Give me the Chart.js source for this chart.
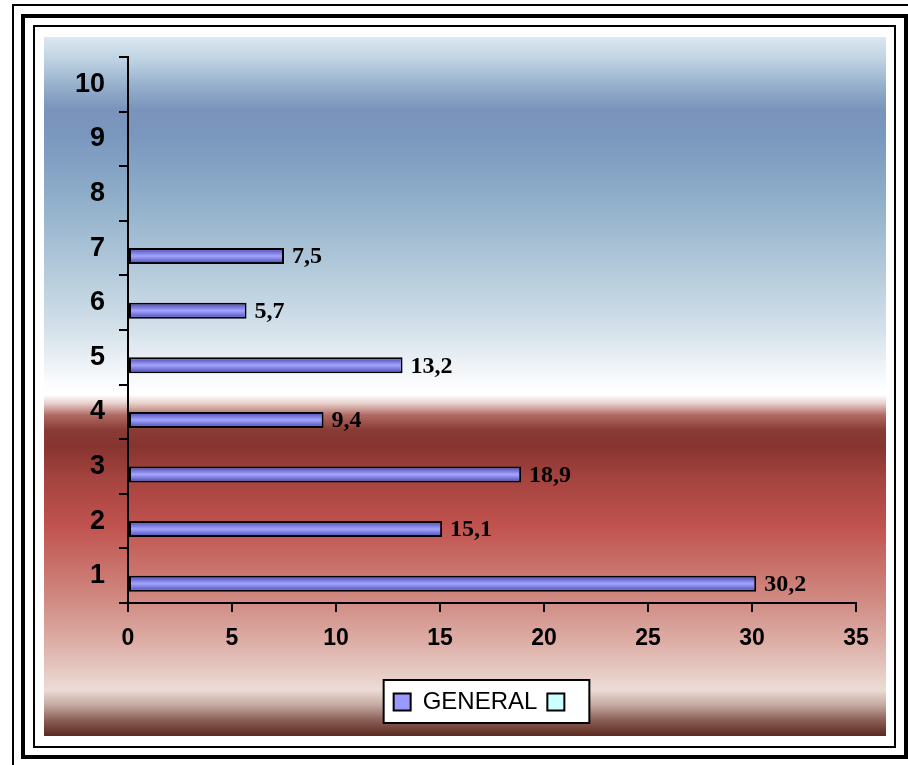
<!DOCTYPE html>
<html>
<head>
<meta charset="utf-8">
<script src="https://cdn.jsdelivr.net/npm/chart.js@4/dist/chart.umd.min.js"></script>
<style>
  html, body { margin: 0; padding: 0; background: #fff; }
  #wrap { position: relative; width: 908px; height: 765px; }
</style>
</head>
<body>
<div id="wrap"><canvas id="chart"></canvas></div>
<script>
// ---- data ----
const categories = ['1', '2', '3', '4', '5', '6', '7', '8', '9', '10'];
const generalValues = [30.2, 15.1, 18.9, 9.4, 13.2, 5.7, 7.5, null, null, null];
const blankValues = [null, null, null, null, null, null, null, null, null, null];
const seriesNames = ['GENERAL', ''];
const axisMin = 0;
const axisMax = 35;
const axisStep = 5;

// ---- styling ----
const SANS = '"Liberation Sans", Arial, sans-serif';
const SERIF = '"Liberation Serif", "Times New Roman", serif';
const barShades = [
  { edge: '#8fd0d0', mid: '#ccffff' },   // blank series
  { edge: '#5c5cc2', mid: '#a4a4ff' }    // GENERAL
];

const fmt = v => v.toFixed(1).replace('.', ',');

// Page frame, plot background and legend panel
const framePlugin = {
  id: 'framePlugin',
  beforeDraw(chart) {
    const ctx = chart.ctx;
    ctx.save();
    ctx.fillStyle = '#fff';
    ctx.fillRect(0, 0, chart.width, chart.height);
    ctx.fillStyle = '#000';
    // outer hairline
    ctx.fillRect(12, 4, 896, 2);
    ctx.fillRect(12, 4, 2, 761);
    // heavy frame
    ctx.fillRect(21, 14, 887, 4);
    ctx.fillRect(21, 14, 4, 745);
    ctx.fillRect(904, 14, 4, 745);
    ctx.fillRect(21, 755, 887, 4);
    // inner thin frame
    ctx.fillRect(33, 25, 863, 2);
    ctx.fillRect(33, 25, 2, 723);
    ctx.fillRect(894, 25, 2, 723);
    ctx.fillRect(33, 746, 863, 2);

    // plot background gradient
    const top = 37, bottom = 736;
    const g = ctx.createLinearGradient(0, top, 0, bottom);
    const stops = [
      [0.000, '#dce8f2'], [0.033, '#bed2e2'], [0.069, '#96b0cc'], [0.104, '#7a93bb'],
      [0.147, '#7b98bf'], [0.233, '#90afca'], [0.319, '#aec6d8'], [0.419, '#d4e1ea'],
      [0.495, '#fbfcfd'], [0.512, '#ffffff'], [0.524, '#e8d0cc'], [0.541, '#b06a64'],
      [0.562, '#8a3b35'], [0.584, '#86342f'], [0.634, '#a64440'], [0.698, '#c0524e'],
      [0.748, '#c86c66'], [0.805, '#d08a82'], [0.863, '#dcaca4'], [0.934, '#ecdcd6'],
      [0.956, '#c4a8a0'], [0.977, '#8c6058'], [1.000, '#5a281e']
    ];
    stops.forEach(([o, c]) => g.addColorStop(o, c));
    ctx.fillStyle = g;
    ctx.fillRect(44, top, 842, bottom - top);

    // legend panel
    const hb = chart.legend && chart.legend.legendHitBoxes;
    if (hb && hb.length) {
      const l = Math.min(...hb.map(h => h.left)) - 10;
      const r = Math.max(...hb.map(h => h.left + h.width)) + 13;
      const t = Math.min(...hb.map(h => h.top)) - 10;
      const b = Math.max(...hb.map(h => h.top + h.height)) + 9;
      ctx.fillStyle = '#fff';
      ctx.fillRect(l, t, r - l, b - t);
      ctx.strokeStyle = '#000';
      ctx.lineWidth = 2;
      ctx.strokeRect(l, t, r - l, b - t);
    }
    ctx.restore();
  },
  afterLayout(chart) {
    // centre the legend row under the plot
    const lg = chart.legend;
    if (lg) { lg.left += 35; lg.right += 35; }
  }
};

// Shaded bar faces and value labels
const barDecor = {
  id: 'barDecor',
  afterDatasetsDraw(chart) {
    const ctx = chart.ctx;
    ctx.save();
    chart.data.datasets.forEach((ds, di) => {
      const meta = chart.getDatasetMeta(di);
      const shade = barShades[di];
      meta.data.forEach((bar, i) => {
        if (ds.data[i] == null) return;
        const p = bar.getProps(['x', 'y', 'base', 'height'], true);
        const bw = 2;
        const l = Math.min(p.x, p.base) + bw, r = Math.max(p.x, p.base) - bw;
        const t = p.y - p.height / 2 + bw, b = p.y + p.height / 2 - bw;
        if (r <= l || b <= t) return;
        const g = ctx.createLinearGradient(0, t, 0, b);
        g.addColorStop(0, shade.edge);
        g.addColorStop(0.5, shade.mid);
        g.addColorStop(1, shade.edge);
        ctx.fillStyle = g;
        ctx.fillRect(l, t, r - l, b - t);
      });
    });
    ctx.font = 'bold 24px ' + SERIF;
    ctx.fillStyle = '#000';
    ctx.textAlign = 'left';
    ctx.textBaseline = 'middle';
    chart.data.datasets.forEach((ds, di) => {
      const meta = chart.getDatasetMeta(di);
      meta.data.forEach((bar, i) => {
        const v = ds.data[i];
        if (v == null) return;
        ctx.fillText(fmt(v), bar.x + 8, bar.y + 1);
      });
    });
    ctx.restore();
  }
};

new Chart(document.getElementById('chart'), {
  type: 'bar',
  data: {
    labels: categories,
    datasets: [
      {
        label: seriesNames[1],
        data: blankValues,
        backgroundColor: '#ccffff',
        borderColor: '#000',
        borderWidth: 2,
        borderSkipped: false
      },
      {
        label: seriesNames[0],
        data: generalValues,
        backgroundColor: '#9999ff',
        borderColor: '#000',
        borderWidth: 2,
        borderSkipped: false
      }
    ]
  },
  options: {
    indexAxis: 'y',
    responsive: true,
    maintainAspectRatio: false,
    animation: false,
    events: [],
    categoryPercentage: 0.586,
    barPercentage: 1,
    layout: { padding: { left: 44, right: 52, top: 57, bottom: 41 } },
    scales: {
      y: {
        type: 'category',
        reverse: true,
        offset: true,
        afterFit(scale) { scale.width = 84; },
        border: { display: true, color: '#000', width: 2 },
        grid: {
          offset: true,
          drawOnChartArea: false,
          drawTicks: true,
          tickLength: 9,
          color: '#000',
          lineWidth: 2
        },
        ticks: {
          color: '#000',
          padding: 14,
          font: { family: SANS, size: 27, weight: 'bold' }
        }
      },
      x: {
        type: 'linear',
        min: axisMin,
        max: axisMax,
        afterFit(scale) { scale.height = 77; },
        border: { display: true, color: '#000', width: 2 },
        grid: {
          drawOnChartArea: false,
          drawTicks: true,
          tickLength: 9,
          color: '#000',
          lineWidth: 2
        },
        ticks: {
          stepSize: axisStep,
          color: '#000',
          padding: 13,
          font: { family: SANS, size: 23, weight: 'bold' }
        }
      }
    },
    plugins: {
      legend: {
        display: true,
        position: 'bottom',
        reverse: true,
        labels: {
          boxWidth: 17,
          boxHeight: 17,
          padding: 10,
          color: '#000',
          font: { family: SANS, size: 24 }
        }
      },
      tooltip: { enabled: false }
    }
  },
  plugins: [framePlugin, barDecor]
});
</script>
</body>
</html>
